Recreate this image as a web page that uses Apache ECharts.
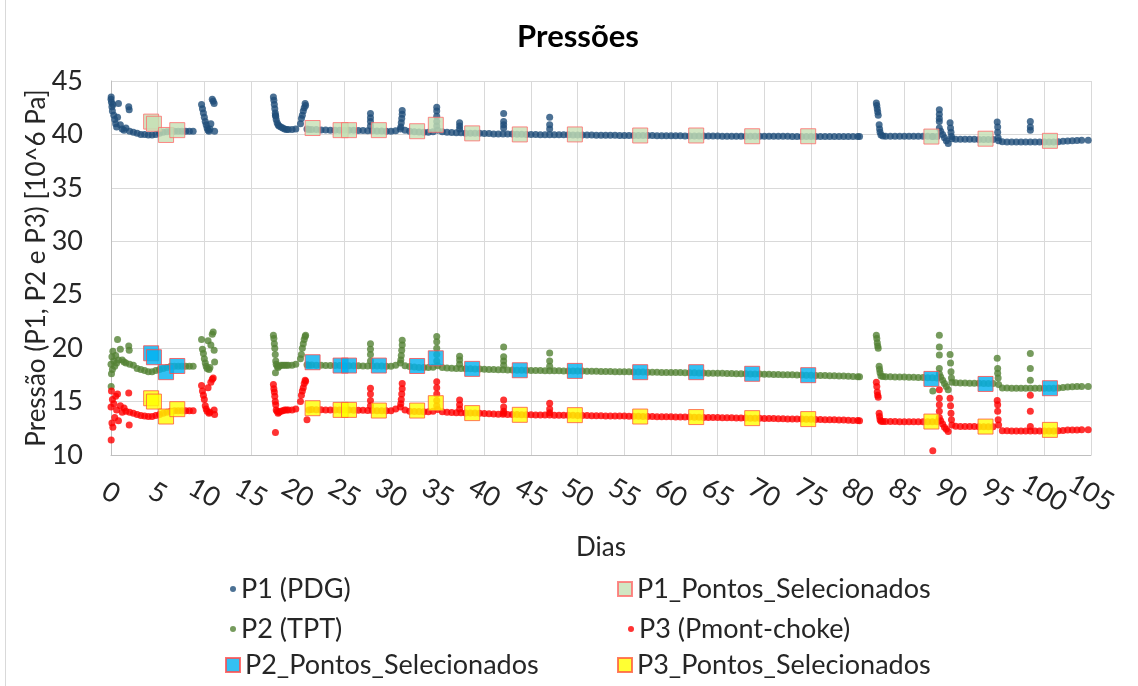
<!DOCTYPE html>
<html><head><meta charset="utf-8">
<script src="https://cdn.jsdelivr.net/npm/echarts@6/dist/echarts.min.js"></script>
<style>html,body{margin:0;padding:0;background:#fff}#chart{width:1138px;height:686px}</style>
</head><body><div id="chart"></div>
<script>
// ---- measurement times (days) ----
const dias = [
  0.0,0.02,0.05,0.1,0.15,0.2,0.3,0.4,0.5,0.6,0.7,0.8,1.0,1.2,1.4,1.6,1.9,1.95,2.0,2.4,
  2.8,3.2,3.6,4.0,4.4,4.8,5.2,5.6,6.0,6.4,6.8,7.2,7.6,8.0,8.4,8.8,
  9.7,9.8,9.9,10.0,10.1,10.2,10.3,10.4,10.5,10.6,10.7,10.85,10.95,11.05,11.1,
  17.4,17.45,17.5,17.55,17.6,17.62,17.65,17.7,17.8,17.9, 18.0,18.2,18.4,18.6,18.8,19.0,19.4,19.8, 20.3,20.4,20.5,20.6,20.7,20.8,20.85, 21.0,21.2,
  21.5,22,22.5,23,23.5,24,24.5,25,25.5,26,26.5,27,27.5,
  27.8,27.8,27.8,27.8,
  28,28.5,29,29.5,30,30.5,
  31.2,31.2,31.15,31.1,31.05,31.0,
  31.5,32,32.5,33,33.5,34,34.5,
  34.9,34.9,34.9,34.9,34.9,
  35,35.5,36,36.5,37,
  37.35,37.35,37.35,
  37.5,38,38.5,39,39.5,40,40.5,41,41.5,
  42.07,42.07,42.07,42.07,
  42,42.5,43,43.5,44,44.5,45,45.5,46,46.5,
  47.0,47.0,47.0,
  47,47.5,48,48.5,49,49.5,50,50.5,51,51.5,
  52,52.5,53,53.5,54,54.5,55,55.5,56,56.5,
  57,57.5,58,58.5,59,59.5,60,60.5,61,61.5,
  62,62.5,63,63.5,64,64.5,65,65.5,66,66.5,
  67,67.5,68,68.5,69,69.5,70,70.5,71,71.5,
  72,72.5,73,73.5,74,74.5,75,75.5,76,76.5,
  77,77.5,78,78.5,79,79.5,80,80.2,
  82.0,82.05,82.1,82.15,82.2,82.3,82.35,82.4,82.5,82.7,
  83,83.5,84,84.5,85,85.5,86,86.5,87,87.5,88,88.5,
  88.05,
  88.75,88.75,88.75,88.75,88.75,
  88.9,89.1,89.3,89.5,89.7,
  89.9,89.95,90.0,90.05,90.1,
  90.5,91,91.5,92,92.5,93,93.5,94,94.5,
  94.95,95.0,95.0,95.05,95.1,
  95.5,96,96.5,97,97.5,98,
  98.5,98.5,98.5,98.5,
  99,99.5,100,100.5,101,101.5,102,102.5,
  103,103.5,104,104.7
];
// ---- P1 (PDG) [10^6 Pa] ----
const p1PDG = [
  43.3,43.5,43.0,42.6,42.2,42.8,41.8,41.4,41.0,40.7,41.6,42.9,40.9,40.5,40.4,40.6,42.6,42.3,40.3,40.2,
  40.1,40.0,40.0,39.95,39.95,40.0,40.1,40.2,40.25,40.3,40.3,40.3,40.3,40.3,40.3,40.3,
  42.8,42.4,42.0,41.6,41.2,40.9,40.6,40.4,40.3,40.5,41.0,43.3,43.1,42.9,40.3,
  43.5,43.2,42.8,42.4,42.0,41.8,41.7,41.4,41.1,40.9, 40.8,40.7,40.6,40.5,40.45,40.45,40.45,40.5, 41.0,41.5,41.8,42.2,42.5,42.9,42.7, 40.5,40.45,
  40.45,40.45,40.42,40.42,40.4,40.4,40.4,40.4,40.38,40.38,40.36,40.36,40.35,
  41.95,41.55,41.2,40.8,
  40.35,40.33,40.33,40.3,40.3,40.35,
  42.25,41.9,41.5,41.1,40.7,40.5,
  40.4,40.3,40.25,40.22,40.2,40.2,40.25,
  42.55,42.2,41.7,41.2,40.8,
  40.4,40.25,40.2,40.18,40.15,
  41.1,40.8,40.5,
  40.15,40.12,40.12,40.1,40.1,40.08,40.08,40.05,40.05,
  41.95,41.2,40.9,40.6,
  40.05,40.05,40.03,40.02,40.02,40.0,40.0,40.0,39.98,39.98,
  41.6,40.9,40.5,
  39.98,39.97,39.97,39.96,39.96,39.95,39.95,39.95,39.94,39.94,
  39.93,39.93,39.93,39.92,39.92,39.91,39.91,39.9,39.9,39.9,
  39.9,39.89,39.89,39.88,39.88,39.88,39.87,39.87,39.87,39.86,
  39.86,39.86,39.86,39.85,39.85,39.85,39.85,39.84,39.84,39.84,
  39.84,39.83,39.83,39.83,39.83,39.83,39.82,39.82,39.82,39.82,
  39.82,39.82,39.81,39.81,39.81,39.81,39.81,39.81,39.8,39.8,
  39.8,39.8,39.8,39.8,39.8,39.8,39.8,39.8,
  42.95,42.7,42.4,42.1,41.8,40.9,40.5,40.2,39.95,39.85,
  39.83,39.83,39.83,39.83,39.83,39.82,39.82,39.82,39.82,39.82,39.81,39.81,
  39.8,
  42.3,41.9,41.5,41.2,40.6,
  40.3,40.0,39.7,39.4,39.15,
  41.1,40.6,40.2,39.8,39.6,
  39.55,39.55,39.55,39.54,39.54,39.53,39.53,39.52,39.52,
  41.17,40.7,40.2,39.7,39.4,
  39.32,39.3,39.3,39.3,39.3,39.3,
  41.2,40.7,40.4,39.3,
  39.3,39.3,39.3,39.3,39.3,39.32,39.35,39.38,
  39.42,39.44,39.45,39.45
];
// ---- P2 (TPT) [10^6 Pa] ----
const p2TPT = [
  18.5,16.4,17.6,19.2,18.0,19.7,18.8,18.3,19.3,18.6,20.8,18.9,19.9,18.9,18.7,18.6,20.2,19.8,18.5,18.4,
  18.1,18.0,17.9,17.8,17.8,17.9,18.0,18.1,18.2,18.3,18.3,18.3,18.3,18.3,18.3,18.3,
  20.8,19.9,19.5,19.0,18.6,18.3,18.1,20.7,18.0,18.2,20.3,21.3,21.5,19.8,18.7,
  21.2,20.9,20.4,20.0,19.4,17.7,18.8,18.5,18.3,18.2, 18.3,18.4,18.4,18.4,18.4,18.4,18.4,18.5, 19.0,19.4,20.0,20.4,20.8,21.1,21.2, 18.45,18.4,
  18.42,18.4,18.4,18.38,18.38,18.37,18.37,18.36,18.36,18.35,18.35,18.34,18.34,
  20.4,19.9,19.4,18.8,
  18.33,18.32,18.32,18.3,18.3,18.4,
  20.75,20.3,19.8,19.3,18.9,18.6,
  18.35,18.28,18.24,18.2,18.18,18.18,18.22,
  21.1,20.6,20.0,19.4,18.8,
  18.35,18.2,18.15,18.12,18.1,
  19.25,18.9,18.5,
  18.1,18.08,18.06,18.05,18.04,18.02,18.0,17.99,17.98,
  20.1,19.2,18.8,18.4,
  17.97,17.96,17.95,17.94,17.93,17.92,17.91,17.9,17.9,17.89,
  19.55,18.8,18.3,
  17.89,17.88,17.88,17.87,17.87,17.86,17.85,17.85,17.84,17.83,
  17.83,17.82,17.81,17.81,17.8,17.79,17.79,17.78,17.77,17.77,
  17.76,17.75,17.75,17.74,17.73,17.73,17.72,17.71,17.71,17.7,
  17.7,17.69,17.68,17.67,17.66,17.65,17.65,17.64,17.63,17.62,
  17.61,17.6,17.6,17.59,17.58,17.57,17.56,17.55,17.54,17.53,
  17.52,17.51,17.5,17.49,17.48,17.47,17.46,17.45,17.44,17.43,
  17.42,17.41,17.4,17.39,17.37,17.35,17.33,17.32,
  21.2,20.9,20.5,20.2,20.0,18.3,18.0,17.7,17.4,17.35,
  17.33,17.32,17.31,17.3,17.29,17.28,17.27,17.26,17.25,17.24,17.22,17.2,
  16.0,
  21.2,20.1,19.36,18.1,17.6,
  17.3,17.0,16.7,16.4,16.1,
  19.4,18.6,17.8,17.2,16.8,
  16.75,16.74,16.73,16.72,16.72,16.71,16.7,16.7,16.69,
  19.05,18.1,17.65,17.2,16.6,
  16.28,16.26,16.25,16.25,16.24,16.24,
  19.5,18.1,17.0,16.24,
  16.24,16.24,16.24,16.25,16.25,16.28,16.32,16.36,
  16.38,16.4,16.4,16.4
];
// ---- P3 (Pmont-choke) [10^6 Pa] ----
const p3Pmont = [
  14.5,11.4,16.0,13.0,15.2,12.6,14.8,13.5,15.5,14.2,15.7,13.2,14.6,14.0,14.4,14.1,15.8,12.8,14.0,13.9,
  13.8,13.7,13.65,13.6,13.6,13.7,13.8,13.9,14.0,14.1,14.15,14.15,14.15,14.15,14.15,14.15,
  16.5,16.0,15.6,15.2,14.6,14.3,14.1,16.3,13.9,14.0,16.8,17.1,17.2,14.2,13.8,
  16.6,16.2,15.9,15.5,15.0,12.1,14.7,14.2,14.1,13.9, 14.0,14.1,14.15,14.2,14.2,14.2,14.2,14.3, 15.0,15.6,16.0,16.3,16.7,17.0,16.9, 13.3,14.2,
  14.25,14.24,14.23,14.22,14.22,14.21,14.2,14.2,14.2,14.19,14.18,14.18,14.17,
  16.25,15.7,15.1,14.6,
  14.16,14.15,14.15,14.14,14.13,14.3,
  16.7,16.2,15.7,15.2,14.8,14.5,
  14.2,14.1,14.08,14.06,14.05,14.04,14.1,
  16.85,16.3,15.7,15.1,14.6,
  14.25,14.05,14.0,13.98,13.96,
  15.15,14.7,14.3,
  13.95,13.94,13.93,13.92,13.9,13.88,13.86,13.84,13.82,
  15.15,14.5,14.1,13.9,
  13.81,13.8,13.79,13.78,13.77,13.76,13.76,13.75,13.75,13.74,
  14.85,14.3,13.95,
  13.74,13.73,13.73,13.72,13.72,13.71,13.7,13.7,13.69,13.68,
  13.68,13.67,13.66,13.66,13.65,13.64,13.64,13.63,13.62,13.62,
  13.61,13.6,13.6,13.59,13.58,13.58,13.57,13.56,13.56,13.55,
  13.55,13.54,13.53,13.52,13.52,13.51,13.5,13.49,13.49,13.48,
  13.47,13.46,13.46,13.45,13.44,13.43,13.42,13.41,13.41,13.4,
  13.39,13.38,13.38,13.37,13.36,13.35,13.34,13.33,13.32,13.31,
  13.3,13.29,13.28,13.27,13.25,13.24,13.22,13.21,
  16.8,16.4,15.9,15.6,15.4,13.9,13.6,13.3,13.15,13.13,
  13.13,13.13,13.13,13.12,13.12,13.12,13.12,13.11,13.11,13.1,13.1,13.1,
  10.4,
  16.1,15.3,14.7,14.1,13.5,
  13.2,12.9,12.6,12.4,12.2,
  15.3,14.6,13.9,13.3,12.8,
  12.68,12.67,12.67,12.66,12.66,12.65,12.65,12.64,12.64,
  15.1,14.7,14.1,13.3,12.8,
  12.28,12.26,12.25,12.25,12.24,12.24,
  15.6,14.1,12.66,12.24,
  12.24,12.24,12.24,12.25,12.25,12.27,12.3,12.33,
  12.35,12.35,12.36,12.36
];
// ---- selected points ----
const diasSel = [4.3,4.6,5.9,7.1,21.6,24.6,25.5,28.7,32.8,34.8,38.7,43.8,49.7,56.7,62.7,68.7,74.7,87.9,93.7,100.6];
const p1Sel = [41.2,41.0,39.95,40.4,40.6,40.4,40.4,40.4,40.3,40.9,40.1,40.0,40.0,39.9,39.9,39.83,39.83,39.8,39.6,39.4];
const p2Sel = [19.52,19.15,17.75,18.33,18.68,18.37,18.37,18.37,18.33,19.05,18.06,17.93,17.87,17.75,17.75,17.6,17.47,17.12,16.65,16.25];
const p3Sel = [15.31,15.0,13.6,14.29,14.38,14.22,14.22,14.16,14.16,14.85,13.92,13.76,13.73,13.6,13.55,13.45,13.36,13.13,12.66,12.35];

const seriesNames = ['P1 (PDG)','P1_Pontos_Selecionados','P2 (TPT)','P3 (Pmont-choke)','P2_Pontos_Selecionados','P3_Pontos_Selecionados'];
const xRange = [0, 105, 5];
const yRange = [10, 45, 5];

const F = 'Lato, "Noto Sans", sans-serif';
const TXT = '#262626';
const pairs = (xs, ys) => xs.map((x, i) => [x, ys[i]]);

const dot = (name, color, ys) => ({
  name, type: 'scatter', data: pairs(dias, ys), symbol: 'circle', symbolSize: 7,
  itemStyle: { color }, z: 2, silent: true
});
const sq = (name, fill, border, ys) => ({
  name, type: 'scatter', data: pairs(diasSel, ys), symbol: 'rect', symbolSize: 15,
  itemStyle: { color: fill, borderColor: border, borderWidth: 1 }, z: 3, silent: true
});
const lg = (name, left, top, icon, w, h) => ({
  data: [name], left, top, icon, itemWidth: w, itemHeight: h, padding: 0, itemGap: 0,
  selectedMode: false, textStyle: { fontSize: 27, fontFamily: F, color: TXT, lineHeight: 30 }
});
const xLabel = (fmt) => ({
  rotate: -30, align: 'center', verticalAlign: 'middle', margin: 38, fontSize: 27, color: TXT, fontFamily: F,
  formatter: fmt, hideOverlap: false
});

const chart = echarts.init(document.getElementById('chart'), null, { renderer: 'canvas' });
chart.setOption({
  animation: false,
  backgroundColor: '#fff',
  textStyle: { fontFamily: F },
  title: {
    text: 'Pressões', left: 573, top: 16, textAlign: 'center',
    textStyle: { fontSize: 31, fontWeight: 'bold', color: '#000', fontFamily: F }
  },
  graphic: [{ type: 'line', shape: { x1: 5.5, y1: 0, x2: 5.5, y2: 686 }, style: { stroke: '#D9D9D9', lineWidth: 1 }, silent: true }],
  grid: { left: 111, right: 47, top: 81, bottom: 231, containLabel: false, outerBoundsMode: 'none' },
  xAxis: [{
    type: 'value', min: xRange[0], max: xRange[1], interval: xRange[2],
    name: 'Dias', nameLocation: 'middle', nameGap: 80,
    nameTextStyle: { fontSize: 26, color: TXT, fontFamily: F },
    axisLine: { show: true, lineStyle: { color: '#BFBFBF', width: 1 } },
    axisTick: { show: false },
    splitLine: { show: true, lineStyle: { color: '#D9D9D9', width: 1 } },
    axisLabel: Object.assign(xLabel(v => (v === xRange[1] ? '' : String(v))), { showMinLabel: true, showMaxLabel: false })
  }, {
    type: 'value', min: xRange[0], max: xRange[1], interval: xRange[2], position: 'bottom', offset: 0,
    axisLine: { show: false }, axisTick: { show: false }, splitLine: { show: false },
    axisLabel: Object.assign(xLabel(v => (v === xRange[1] ? String(v) : '')), { showMinLabel: true, showMaxLabel: true })
  }],
  yAxis: {
    type: 'value', min: yRange[0], max: yRange[1], interval: yRange[2],
    name: 'Pressão (P1, P2 e P3) [10^6 Pa]', nameLocation: 'middle', nameGap: 61, nameMoveOverlap: false,
    nameTextStyle: { fontSize: 26, color: TXT, fontFamily: F },
    axisLine: { show: true, lineStyle: { color: '#BFBFBF', width: 1 } },
    axisTick: { show: false },
    splitLine: { show: true, lineStyle: { color: '#D9D9D9', width: 1 } },
    axisLabel: { margin: 28, fontSize: 27, color: TXT, fontFamily: F }
  },
  legend: [
    lg(seriesNames[0], 230, 574, 'circle', 6, 6),
    lg(seriesNames[2], 230, 614, 'circle', 6, 6),
    lg(seriesNames[4], 225, 650, 'rect', 14, 14),
    lg(seriesNames[1], 617, 574, 'rect', 14, 14),
    lg(seriesNames[3], 628, 614, 'circle', 6, 6),
    lg(seriesNames[5], 617, 650, 'rect', 14, 14)
  ],
  series: [
    dot(seriesNames[0], '#1F4E79', p1PDG),
    sq(seriesNames[1], '#C5E0B4', '#FF6B6B', p1Sel),
    dot(seriesNames[2], '#548235', p2TPT),
    dot(seriesNames[3], '#FF0000', p3Pmont),
    sq(seriesNames[4], '#00B0F0', '#FF4B4B', p2Sel),
    sq(seriesNames[5], '#FFFF00', '#FF5A3C', p3Sel)
  ]
});
</script>
</body></html>
